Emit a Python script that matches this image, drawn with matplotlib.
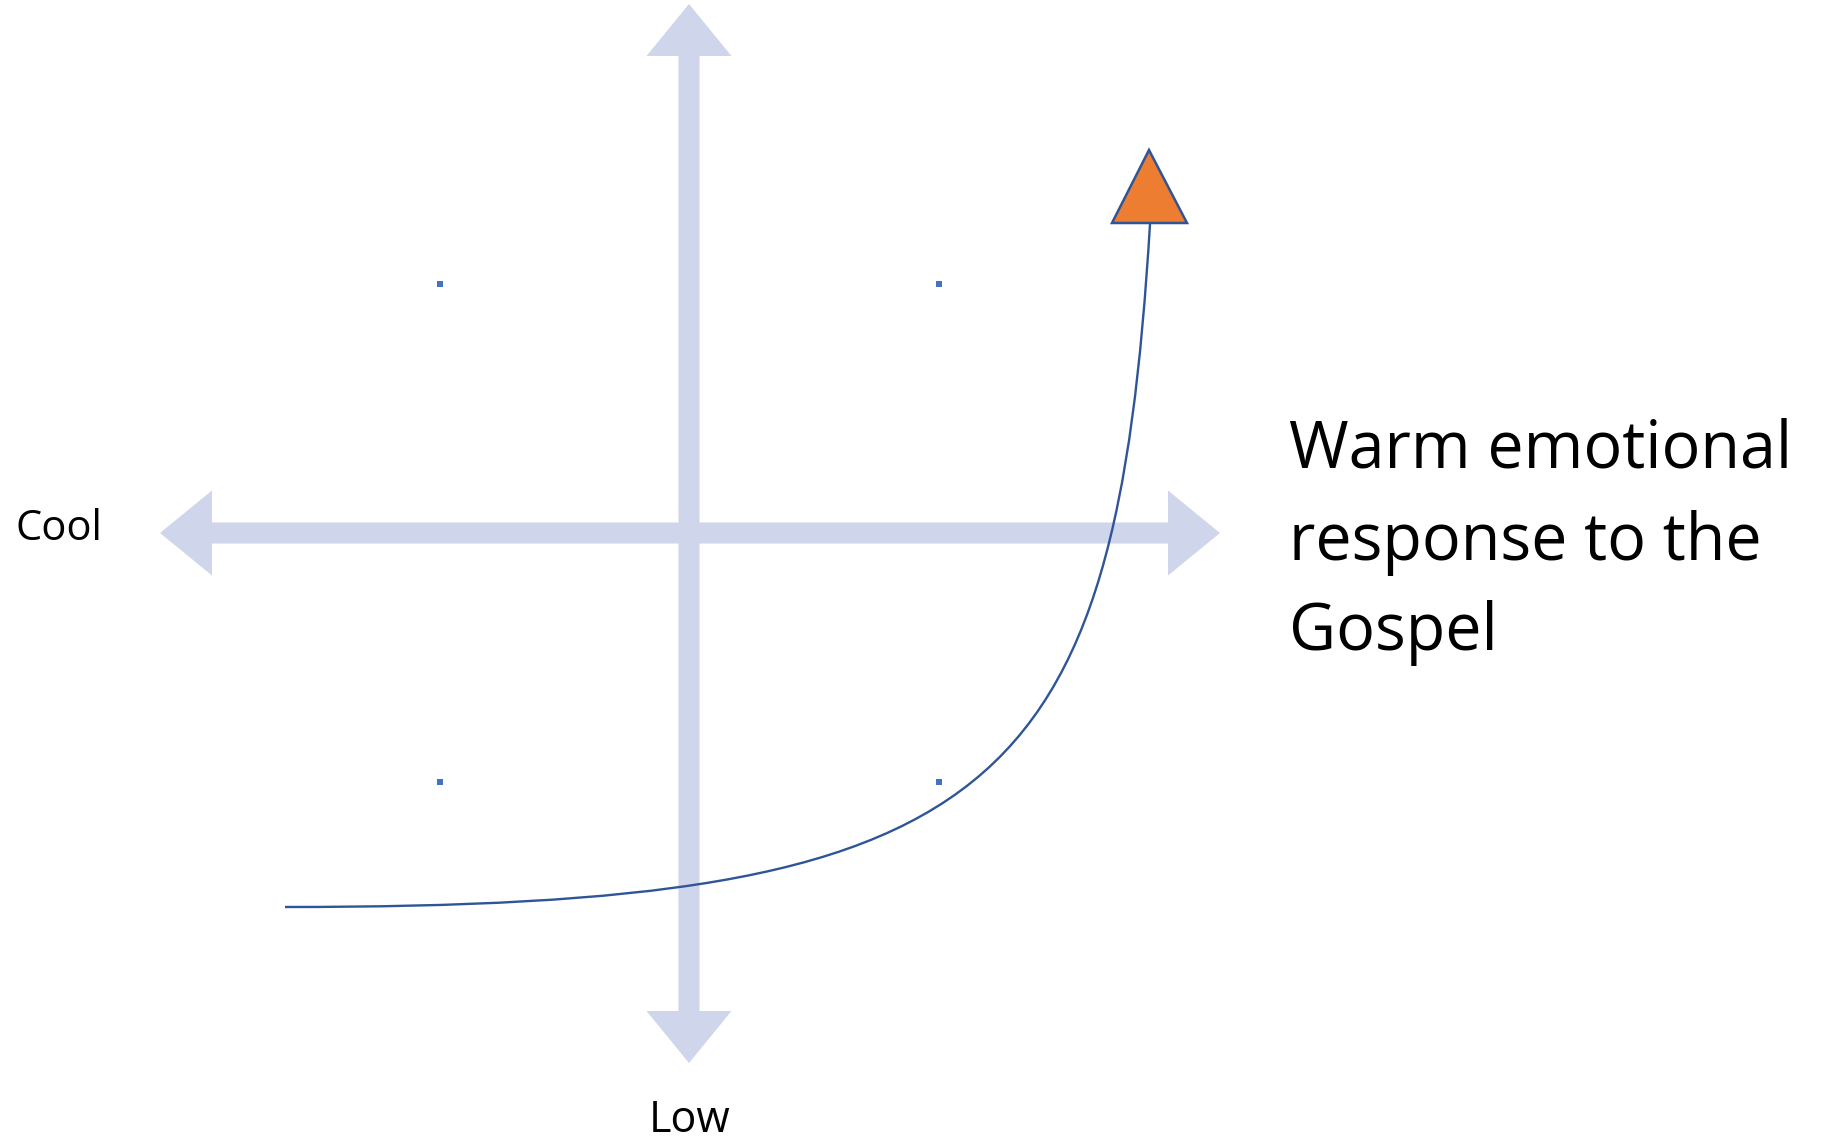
"""Quadrant diagram: warm emotional response to the Gospel."""

import matplotlib

matplotlib.use('Agg')
import matplotlib.pyplot as plt
from matplotlib.patches import Polygon, PathPatch
from matplotlib.path import Path

plt.rcParams['font.family'] = ['Open Sans', 'DejaVu Sans']

# canvas in pixels (y grows downward)
W, H = 1829, 1140
centre = (689, 533)

# arrow tips
arrow_tips = [(689, 4), (689, 1063), (160, 533), (1220, 533)]
shaft_w = 21
head_w = 85
head_len = 52

# quadrant marker dots
dot_x = [440, 939, 440, 939]
dot_y = [284, 284, 782, 782]

# curve: start, two control points, end (cubic bezier)
curve_x = [285, 1000, 1115, 1150]
curve_y = [907, 907, 800, 224]

# orange triangle at the end of the curve
tri_x = [1149, 1112, 1187]
tri_y = [150, 223, 223]

label_lines = ['Warm emotional', 'response to the', 'Gospel']
label_baselines = [467, 560, 650]

arrow_col = '#CFD5EA'
line_col = '#2F5597'

fig = plt.figure(figsize=(W / 100, H / 100), dpi=100)
ax = fig.add_axes([0, 0, 1, 1])
ax.set_xlim(0, W)
ax.set_ylim(H, 0)
ax.axis('off')

for tx, ty in arrow_tips:
    ax.arrow(centre[0], centre[1], tx - centre[0], ty - centre[1],
             width=shaft_w, head_width=head_w, head_length=head_len,
             length_includes_head=True, color=arrow_col, lw=0, zorder=1)

ax.plot(dot_x, dot_y, 's', color='#4472C4', markersize=4.3, mew=0, zorder=2)

curve = Path(list(zip(curve_x, curve_y)),
             [Path.MOVETO, Path.CURVE4, Path.CURVE4, Path.CURVE4])
ax.add_patch(PathPatch(curve, facecolor='none', edgecolor=line_col, lw=1.7,
                       capstyle='butt', zorder=3))

ax.add_patch(Polygon(list(zip(tri_x, tri_y)), closed=True, facecolor='#ED7D31',
                     edgecolor=line_col, lw=1.8, joinstyle='miter', zorder=4))

ax.text(16, 529, 'Cool', fontsize=30, va='center', ha='left')
ax.text(690, 1132, 'Low', fontsize=31, va='baseline', ha='center')
for line, yb in zip(label_lines, label_baselines):
    ax.text(1289, yb, line, fontsize=46.5, va='baseline', ha='left')

plt.savefig('out.png', dpi=100)
plt.close()
